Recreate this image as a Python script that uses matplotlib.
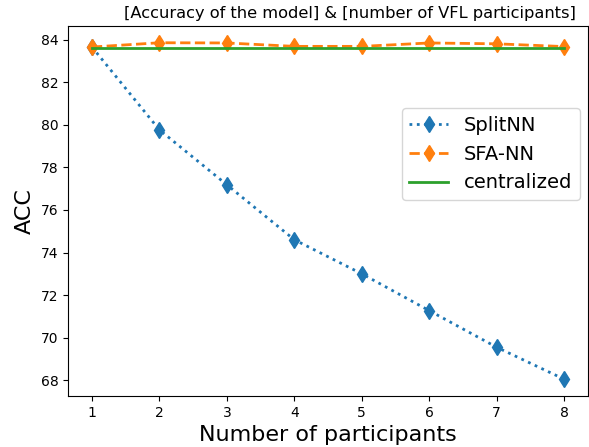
import numpy as np
import matplotlib
matplotlib.use("Agg")
import matplotlib.pyplot as plt

participants = [1, 2, 3, 4, 5, 6, 7, 8]
splitnn = [83.65, 79.76, 77.18, 74.6, 73.0, 71.27, 69.55, 68.05]
sfa_nn = [83.65, 83.85, 83.84, 83.68, 83.68, 83.84, 83.8, 83.67]
centralized = [83.62] * 8

fig = plt.figure(figsize=(5.89, 4.47), dpi=100)
ax = fig.add_subplot(111)
fig.subplots_adjust(left=0.116, right=0.998, top=0.942, bottom=0.114)

ax.plot(participants, splitnn, ':', marker='d', linewidth=2, markersize=8, label='SplitNN')
ax.plot(participants, sfa_nn, '--', marker='d', linewidth=2, markersize=8, label='SFA-NN')
ax.plot(participants, centralized, '-', linewidth=2, label='centralized')

ax.set_yticks(np.arange(68, 85, 2))
ax.set_xticks(participants)
ax.set_title('[Accuracy of the model] & [number of VFL participants]', fontsize=11.7, x=0.542)
ax.set_xlabel('Number of participants', fontsize=16)
ax.set_ylabel('ACC', fontsize=16)
ax.legend(fontsize=14, loc='upper right', bbox_to_anchor=(0.985, 0.778), borderaxespad=0)

plt.savefig('out.png', dpi=100)
